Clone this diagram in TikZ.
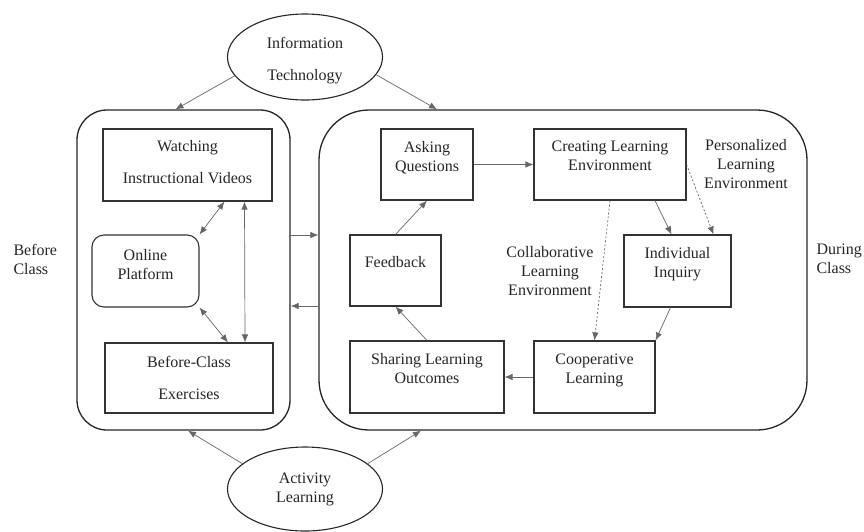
\documentclass[tikz,border=0pt]{standalone}
\usepackage{fontspec}
\setmainfont{Liberation Serif}
\usetikzlibrary{shapes.geometric,arrows.meta}

\begin{document}
\begin{tikzpicture}
  [x=1pt,y=-1pt,>={Latex[length=8pt,width=6.5pt]},
   every node/.style={font=\fontsize{16}{19}\selectfont,text=black!85,align=center},
   box/.style 2 args={rectangle,draw=black!80,line width=1.1pt,minimum width=#1,minimum height=#2},
   raised/.style={text depth=17pt},
   panel/.style 2 args={rectangle,draw=black!85,line width=1.3pt,rounded corners=#1,minimum width=#2,minimum height=320pt},
   oval/.style={ellipse,draw=black!85,line width=1.1pt,minimum width=155pt,minimum height=86pt,inner sep=0pt},
   link/.style={draw=black!60,line width=0.7pt},
   dots/.style={link,dash pattern=on 2pt off 2pt}]
  \useasboundingbox (0,0) rectangle (864,531);

  \node[oval,text height=50pt] (it) at (305,57) {Information\\[13pt]Technology};
  \node[oval,minimum height=84pt] (act) at (305,489) {Activity\\Learning};

  \node[panel={30pt}{213pt}] (before) at (183.5,270) {};
  \node[panel={50pt}{488pt}] (during) at (563,270) {};

  \node[box={169pt}{72pt},text depth=6pt] (watch) at (187.5,165) {Watching\\[13pt]Instructional Videos};
  \node[box={107pt}{72pt},rounded corners=12pt,text depth=14pt] (online) at (145.5,271) {Online\\Platform};
  \node[box={168pt}{70pt}] (exer) at (189,378) {Before-Class\\[13pt]Exercises};

  \node[box={92pt}{71pt},raised] (ask) at (427,164.5) {Asking\\Questions};
  \node[box={152pt}{71pt},raised] (create) at (610,164.5) {Creating Learning\\Environment};
  \node[box={107pt}{72pt},raised] (indiv) at (677.5,271) {Individual\\Inquiry};
  \node[box={121pt}{72pt},raised] (coop) at (594.5,377) {Cooperative\\Learning};
  \node[box={154pt}{72pt},raised] (share) at (427,377) {Sharing Learning\\Outcomes};
  \node[box={91pt}{71pt},raised] (feed) at (395.5,270.5) {Feedback};

  \node[anchor=west,align=left] (beforelbl) at (10,259) {Before\\Class};
  \node[anchor=west,align=left] (duringlbl) at (813,259) {During\\Class};
  \node (perslbl) at (746,164) {Personalized\\Learning\\Environment};
  \node (collablbl) at (550,271) {Collaborative\\Learning\\Environment};

  % into and between the two phases
  \draw[link,->] (it.195) -- ([xshift=-8pt]before.north);
  \draw[link,->] (it.346) -- ([xshift=-126pt]during.north);
  \draw[link,->] (act.158) -- ([xshift=4.5pt]before.south);
  \draw[link,->] (act.22) -- ([xshift=-142pt]during.south);
  \draw[link,->] ([yshift=35pt]before.east) -- ([yshift=35pt]during.west);
  \draw[link,->] ([yshift=-36pt]during.west) -- ([yshift=-36pt]before.east);

  % before class
  \draw[link,<->] (online.north east) -- ([xshift=37pt]watch.south);
  \draw[link,<->] ([xshift=57pt]watch.south) -- ([xshift=56pt]exer.north);
  \draw[link,<->] (online.south east) -- ([xshift=39pt]exer.north);

  % during class
  \foreach \from/\to in {ask.east/create.west,coop.west/share.east,
      share.north/feed.south,feed.north/ask.south}
    \draw[link,->] (\from) -- (\to);
  \draw[link,->] ([xshift=45pt]create.south) -- ([xshift=-6pt]indiv.north);
  \draw[link,->] ([xshift=-7pt]indiv.south) -- (coop.north east);
  \draw[dots,->] (create.east) -- ([xshift=36pt]indiv.north);
  \draw[dots,->] (create.south) -- (coop.north);
\end{tikzpicture}
\end{document}
